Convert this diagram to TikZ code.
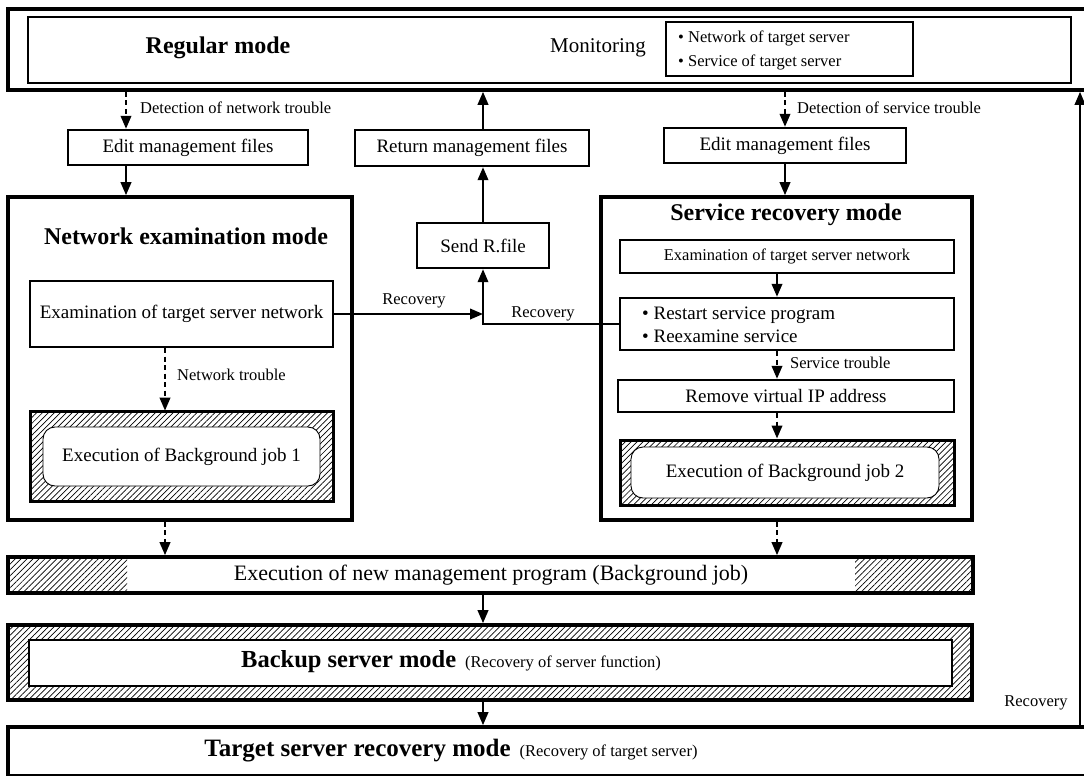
\documentclass[tikz,border=0pt]{standalone}
\usepackage{fontspec}
\setmainfont{Liberation Serif}
\usetikzlibrary{arrows.meta,patterns.meta,calc}

\newcommand\fsz[1]{\fontsize{#1}{#1}\selectfont}
% box node from its corner coordinates: name, style, x1, y1, x2, y2, text
\newcommand\mkbox[7]{\node[#2, minimum width={(#5-#3)*1pt}, minimum height={(#6-#4)*1pt}] (#1) at ({(#3+#5)/2},{(#4+#6)/2}) {#7};}

\tikzset{
  thickbox/.style={draw, line width=3.6pt, inner sep=0pt},
  midbox/.style={draw, line width=2.4pt, inner sep=0pt, fill=white, font=\fsz{19}},
  smallbox/.style={draw, line width=1.4pt, inner sep=0pt, fill=white},
  hatchfill/.style={pattern={Lines[angle=45,distance=4.2pt,line width=0.7pt]}},
  hatchbox/.style={draw, line width=3pt, inner sep=0pt, hatchfill},
  pill/.style={draw, line width=0.9pt, rounded corners=12pt, inner sep=0pt, fill=white, font=\fsz{19}},
  arr/.style={line width=2.2pt, -{Triangle[length=13pt,width=10.5pt]}},
  darr/.style={arr, dash pattern=on 5pt off 3.5pt},
  lbl/.style={font=\fsz{16.5}, inner sep=0pt},
  title/.style={font=\bfseries\fsz{24}, inner sep=0pt},
}

\begin{document}
\begin{tikzpicture}[x=1pt,y=-1pt]
\useasboundingbox (0,0) rectangle (1084,776);
\fill[white] (0,0) rectangle (1084,776);

% column positions of the vertical connectors
\coordinate (colA) at (126,0);
\coordinate (colB) at (165,0);
\coordinate (colS) at (777,0);
\coordinate (colR) at (1080,0);

% ---------------- regular mode ----------------
\mkbox{regouter}{thickbox}{8}{9}{1098}{90}{}
\mkbox{reginner}{midbox}{28}{17}{1071}{83}{}
\node[title] (regtitle) at (218,48) {Regular mode};
\node[font=\fsz{21}, inner sep=0pt] (monitor) at (598,48) {Monitoring};
\mkbox{monlist}{smallbox}{666}{22}{913}{76}{}
\node[font=\fontsize{16.5}{24}\selectfont, align=left, anchor=west, inner sep=0pt] (montxt) at (678,50)
  {\textbullet\ Network of target server\\ \textbullet\ Service of target server};

% ---------------- upper management-file boxes ----------------
\mkbox{editL}{midbox}{68}{130}{308}{165}{Edit management files}
\mkbox{ret}{midbox}{355}{130}{589}{166}{Return management files}
\mkbox{editR}{midbox}{664}{128}{906}{163}{Edit management files}
\mkbox{sendr}{midbox}{417}{223}{549}{268}{Send R.file}

% ---------------- network examination mode ----------------
\mkbox{netbox}{thickbox}{8}{197}{352}{520}{}
\node[title] (nettitle) at (186,236) {Network examination mode};
\mkbox{examL}{midbox}{30}{281}{333}{347}{Examination of target server network}
\mkbox{bgone}{hatchbox}{30}{411}{333}{501}{}
\mkbox{bgonein}{pill}{43}{427}{320}{486}{Execution of Background job 1}

% ---------------- service recovery mode ----------------
\mkbox{srvbox}{thickbox}{601}{197}{972}{520}{}
\node[title] (srvtitle) at (786,215) {Service recovery mode};
\mkbox{examS}{midbox, font=\fsz{16.5}}{620}{240}{954}{273}{Examination of target server network}
\mkbox{restart}{midbox}{620}{298}{954}{350}{}
\node[font=\fontsize{19}{22.5}\selectfont, align=left, anchor=west, inner sep=0pt] (restarttxt) at (642,325)
  {\textbullet\ Restart service program\\ \textbullet\ Reexamine service};
\mkbox{remip}{midbox}{618}{380}{954}{412}{Remove virtual IP address}
\mkbox{bgtwo}{hatchbox}{620}{440}{954}{505}{}
\mkbox{bgtwoin}{pill}{631}{447}{939}{498}{Execution of Background job 2}

% ---------------- new management program bar ----------------
\fill[hatchfill] (8,557) rectangle (127,593);
\fill[hatchfill] (855,557) rectangle (973,593);
\mkbox{bar}{thickbox}{8}{557}{973}{593}{}
\node[font=\fsz{22}, inner sep=0pt] (bartxt) at (491,575) {Execution of new management program (Background job)};

% ---------------- backup server mode ----------------
\mkbox{backup}{thickbox, hatchfill}{8}{625}{972}{700}{}
\mkbox{backupin}{draw, line width=2pt, fill=white, inner sep=0pt}{29}{640}{952}{686}{}
\node[inner sep=0pt] (backuptxt) at (451,662)
  {{\bfseries\fsz{24.5}Backup server mode}\hspace{9pt}{\fsz{16.5}(Recovery of server function)}};

% ---------------- target server recovery mode ----------------
\mkbox{target}{thickbox, fill=white}{8}{727}{1098}{776}{}
\node[inner sep=0pt] (targettxt) at (451,751)
  {{\bfseries\fsz{25}Target server recovery mode}\hspace{9pt}{\fsz{16.5}(Recovery of target server)}};

% ---------------- connectors ----------------
\draw[darr] (colA |- regouter.south) -- (colA |- editL.north);
\node[lbl, anchor=west] (lnet) at (140,108) {Detection of network trouble};
\draw[arr] (colA |- editL.south) -- (colA |- netbox.north);

\draw[darr] (editR.north |- regouter.south) -- (editR.north);
\node[lbl, anchor=west] (lsrv) at (797,108) {Detection of service trouble};
\draw[arr] (editR.south) -- (editR.south |- srvbox.north);

\draw[arr] (sendr.north) -- (sendr.north |- ret.south);
\draw[arr] (sendr.north |- ret.north) -- (sendr.north |- regouter.south);

\draw[darr] (colB |- examL.south) -- (colB |- bgone.north);
\node[lbl, anchor=west] (lnt) at (177,375) {Network trouble};

\draw[arr] (examL.east) -- (examL.east -| sendr.south);
\node[lbl] (lrec1) at (414,301) {Recovery};
\draw[arr, line width=2pt] (restart.west) -| (sendr.south);
\node[lbl] (lrec2) at (543,314) {Recovery};

\draw[arr] (colS |- examS.south) -- (colS |- restart.north);
\draw[darr] (colS |- restart.south) -- (colS |- remip.north);
\node[lbl, anchor=west] (lst) at (790,363) {Service trouble};
\draw[darr] (colS |- remip.south) -- (colS |- bgtwo.north);

\draw[darr] (colB |- netbox.south) -- (colB |- bar.north);
\draw[darr] (colS |- srvbox.south) -- (colS |- bar.north);
\draw[arr] (sendr.south |- bar.south) -- (sendr.south |- backup.north);
\draw[arr] (sendr.south |- backup.south) -- (sendr.south |- target.north);

\draw[arr, line width=2pt] (colR |- target.north) -- (colR |- regouter.south);
\node[lbl] (lrec3) at (1036,703) {Recovery};
\end{tikzpicture}
\end{document}
